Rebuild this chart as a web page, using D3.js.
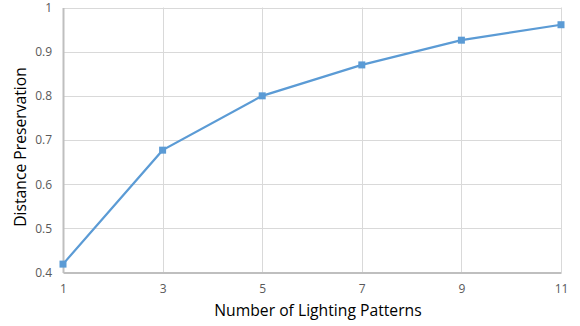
<!DOCTYPE html>
<html><head><meta charset="utf-8">
<script src="https://cdn.jsdelivr.net/npm/d3@7/dist/d3.min.js"></script>
<style>body{margin:0;background:#fff;} svg{display:block;}</style>
</head><body>
<svg id="c" width="580" height="326"></svg>
<script>
const patterns = [1, 3, 5, 7, 9, 11];
const preservation = [0.419, 0.677, 0.800, 0.870, 0.926, 0.961];
const yTicks = [0.4, 0.5, 0.6, 0.7, 0.8, 0.9, 1];
const xTicks = [1, 3, 5, 7, 9, 11];

const svg = d3.select("#c");
const m = {left: 63, right: 19, top: 7.5, bottom: 53.5};
const W = 580, H = 326;
const x = d3.scaleLinear().domain([1, 11]).range([m.left, W - m.right]);
const y = d3.scaleLinear().domain([0.4, 1]).range([H - m.bottom, m.top]);
const font = "Open Sans, sans-serif";

// gridlines
svg.append("g").selectAll("line").data(yTicks.slice(1)).join("line")
  .attr("x1", m.left).attr("x2", W - m.right)
  .attr("y1", d => Math.round(y(d)) + 0.5).attr("y2", d => Math.round(y(d)) + 0.5)
  .attr("stroke", "#d9d9d9").attr("stroke-width", 1);
svg.append("g").selectAll("line").data(xTicks.slice(1)).join("line")
  .attr("y1", m.top).attr("y2", H - m.bottom)
  .attr("x1", d => Math.round(x(d)) + 0.5).attr("x2", d => Math.round(x(d)) + 0.5)
  .attr("stroke", "#d9d9d9").attr("stroke-width", 1);

// axes
const yAxis = svg.append("g").attr("transform", `translate(${m.left},0)`)
  .call(d3.axisLeft(y).tickValues(yTicks).tickSize(0).tickPadding(11).tickFormat(d3.format("~g")));
const xAxis = svg.append("g").attr("transform", `translate(0,${H - m.bottom})`)
  .call(d3.axisBottom(x).tickValues(xTicks).tickSize(0).tickPadding(12).tickFormat(d3.format("d")));
[yAxis, xAxis].forEach(a => {
  a.select(".domain").attr("stroke", "#bfbfbf").attr("stroke-width", 2);
  a.selectAll("text").attr("fill", "#595959").attr("font-family", font).attr("font-size", 12);
});

// line
svg.append("path").datum(patterns.map((p, i) => [p, preservation[i]]))
  .attr("fill", "none").attr("stroke", "#5b9bd5").attr("stroke-width", 2.2)
  .attr("d", d3.line().x(d => x(d[0])).y(d => y(d[1])));
svg.append("g").selectAll("rect").data(patterns.map((p, i) => [p, preservation[i]])).join("rect")
  .attr("x", d => x(d[0]) - 3.5).attr("y", d => y(d[1]) - 3.5)
  .attr("width", 7).attr("height", 7).attr("fill", "#5b9bd5");

// titles
svg.append("text").attr("x", 318).attr("y", 316).attr("text-anchor", "middle")
  .attr("font-family", font).attr("font-size", 15.7).attr("fill", "#000")
  .text("Number of Lighting Patterns");
svg.append("text").attr("transform", "translate(26,147) rotate(-90)").attr("text-anchor", "middle")
  .attr("font-family", font).attr("font-size", 15.7).attr("fill", "#000")
  .text("Distance Preservation");
</script>
</body></html>
